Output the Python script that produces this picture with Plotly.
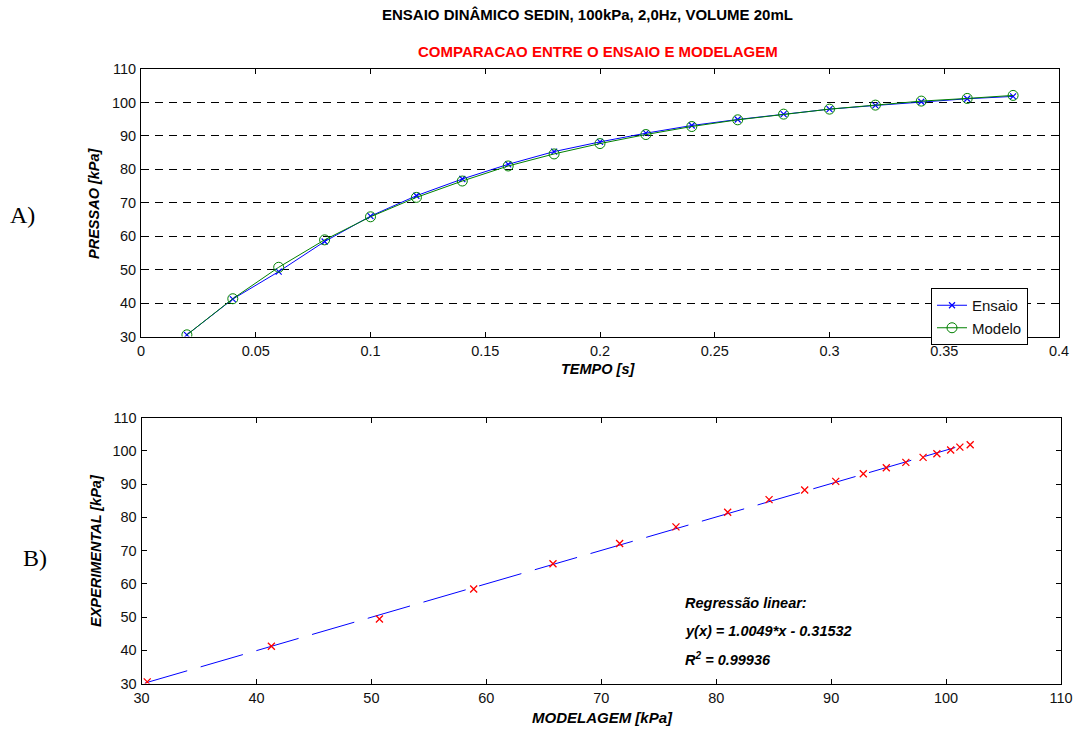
import plotly.graph_objects as go

# Time samples [s]
tempo = [0.02, 0.04, 0.06, 0.08, 0.10, 0.12, 0.14, 0.16, 0.18, 0.20,
         0.22, 0.24, 0.26, 0.28, 0.30, 0.32, 0.34, 0.36, 0.38]

# Measured pressure (test) [kPa]
ensaio = [30.5, 41.2, 49.4, 58.4, 66.0, 72.1, 77.1, 81.5, 85.3, 88.2,
          90.8, 93.1, 94.9, 96.5, 98.0, 99.1, 100.2, 101.1, 101.8]

# Model pressure [kPa]
modelo = [30.5, 41.3, 50.7, 58.9, 65.8, 71.6, 76.5, 81.0, 84.6, 87.7,
          90.4, 92.8, 94.8, 96.5, 98.0, 99.2, 100.4, 101.2, 102.1]

# Linear regression coefficients and extent of the fitted line
reg_a = 1.0049
reg_b = -0.31532
reg_r2 = 0.99936
reg_x = [30.3, 100.8]

top_ticks_x = [0, 0.05, 0.1, 0.15, 0.2, 0.25, 0.3, 0.35, 0.4]
top_ticklabels_x = ["0", "0.05", "0.1", "0.15", "0.2", "0.25", "0.3", "0.35", "0.4"]
y_ticks = [30, 40, 50, 60, 70, 80, 90, 100, 110]
bot_ticks_x = [30, 40, 50, 60, 70, 80, 90, 100, 110]

FONT = "Helvetica, Arial, 'Liberation Sans', sans-serif"
SERIF = "'Liberation Serif', 'Times New Roman', serif"
W, H = 1077, 731

fig = go.Figure()

# A) time series
fig.add_trace(go.Scatter(
    x=tempo, y=ensaio, name="Ensaio", mode="lines+markers",
    line=dict(color="#0000ff", width=1),
    marker=dict(symbol="x-thin", size=6, color="#0000ff",
                line=dict(color="#0000ff", width=1.2)),
    xaxis="x", yaxis="y"))
fig.add_trace(go.Scatter(
    x=tempo, y=modelo, name="Modelo", mode="lines+markers",
    line=dict(color="#008000", width=1),
    marker=dict(symbol="circle-open", size=10, color="#008000",
                line=dict(color="#008000", width=1)),
    xaxis="x", yaxis="y"))

# B) model vs experiment, with fitted line
reg_y = [reg_a * v + reg_b for v in reg_x]
fig.add_trace(go.Scatter(
    x=reg_x, y=reg_y, mode="lines", showlegend=False,
    line=dict(color="#0000ff", width=1, dash="44px,14px"),
    xaxis="x2", yaxis="y2"))
fig.add_trace(go.Scatter(
    x=modelo, y=ensaio, mode="markers", showlegend=False,
    marker=dict(symbol="x-thin", size=7, color="#ff0000",
                line=dict(color="#ff0000", width=1.3)),
    xaxis="x2", yaxis="y2"))

axis_common = dict(
    showline=True, linecolor="black", linewidth=1, mirror="ticks",
    ticks="inside", ticklen=5, tickcolor="black", tickwidth=1,
    tickfont=dict(family=FONT, size=14.5, color="#111111"),
    zeroline=False, showgrid=False, automargin=False,
)

fig.update_layout(
    width=W, height=H,
    margin=dict(l=0, r=0, t=0, b=0),
    paper_bgcolor="white", plot_bgcolor="white",
    font=dict(family=FONT, color="black"),
    xaxis=dict(axis_common, domain=[141 / W, 1059 / W], anchor="y",
               range=[0, 0.4], tickvals=top_ticks_x, ticktext=top_ticklabels_x,
               ticklabelstandoff=1),
    yaxis=dict(axis_common, domain=[1 - 336.5 / H, 1 - 69 / H], anchor="x",
               range=[30, 110], tickvals=y_ticks, ticklabelstandoff=1,
               showgrid=True, gridcolor="black", gridwidth=1, griddash="8px,6px"),
    xaxis2=dict(axis_common, domain=[141.5 / W, 1061 / W], anchor="y2",
                range=[30, 110], tickvals=bot_ticks_x, ticklabelstandoff=1),
    yaxis2=dict(axis_common, domain=[1 - 683.5 / H, 1 - 417.5 / H], anchor="x2",
                range=[30, 110], tickvals=y_ticks, ticklabelstandoff=1),
    showlegend=True,
    legend=dict(x=931 / W, y=1 - 288 / H, xanchor="left", yanchor="top",
                bgcolor="white", bordercolor="black", borderwidth=1,
                font=dict(family=FONT, size=15, color="#111111"),
                tracegroupgap=0, itemwidth=30),
)

def label(text, x, y, size=14.5, color="black", angle=0, family=FONT, xanchor="center"):
    fig.add_annotation(text=text, x=x / W, y=1 - y / H, xref="paper", yref="paper",
                       showarrow=False, textangle=angle, xanchor=xanchor, yanchor="middle",
                       font=dict(family=family, size=size, color=color))

label("<b>ENSAIO DINÂMICO SEDIN, 100kPa, 2,0Hz, VOLUME 20mL</b>", 587, 15, size=15)
label("<b>COMPARACAO ENTRE O ENSAIO E MODELAGEM</b>", 598, 52, size=15, color="#ff0000")
label("<b><i>PRESSAO [kPa]</i></b>", 94, 203, angle=-90)
label("<b><i>TEMPO [s]</i></b>", 598, 369)
label("<b><i>EXPERIMENTAL [kPa]</i></b>", 96, 551, angle=-90)
label("<b><i>MODELAGEM [kPa]</i></b>", 602, 717, size=15)
label("A)", 22, 215, size=24, family=SERIF)
label("B)", 35, 558, size=24, family=SERIF)

label("<b><i>Regressão linear:</i></b>", 683, 603, xanchor="left")
label(f"<b><i>y(x) = {reg_a}*x - {abs(reg_b)}</i></b>", 683, 631, xanchor="left")
label(f"<b><i>R<sup>2</sup> = {reg_r2}</i></b>", 683, 659, xanchor="left")

fig.write_html("out.html")
